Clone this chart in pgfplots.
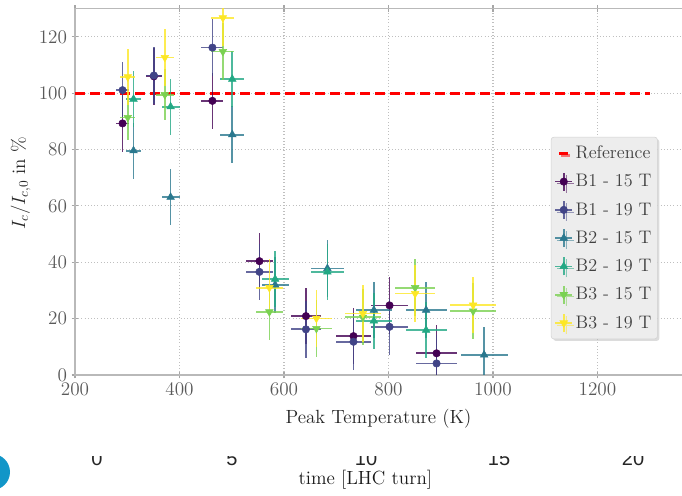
\documentclass[border=0pt]{standalone}
\usepackage{fontspec}
\newfontfamily\axfont{Liberation Sans}
\usepackage{pgfplots}
\usepackage{pgfplotstable}
\pgfplotsset{compat=1.18}
\usetikzlibrary{shadows}
\definecolor{vA}{HTML}{440154}
\definecolor{vB}{HTML}{414487}
\definecolor{vC}{HTML}{2A788E}
\definecolor{vD}{HTML}{22A884}
\definecolor{vE}{HTML}{7AD151}
\definecolor{vF}{HTML}{FDE725}
\definecolor{logoblue}{HTML}{1296C8}

% T  Ic/Ic0  err(T)  err(Ic)
\pgfplotstableread{
T y ex ey
291 89.3 13 10
351 106.0 16 10
463 97.3 21 10
553 40.4 25 10
642 20.9 29 10
733 13.8 33 10
802 24.7 36 10
892 7.7 40 10
}\tabA
\pgfplotstableread{
T y ex ey
291 101.1 13 10
351 106.3 16 10
463 116.2 21 10
553 36.6 25 10
642 16.2 29 10
733 11.8 33 10
802 17.1 36 10
892 4.1 40 10
}\tabB
\pgfplotstableread{
T y ex ey
312 79.6 14 10
383 63.1 17 10
501 85.3 23 10
583 32.0 26 10
683 37.8 31 10
772 23.0 35 10
872 23.0 39 10
983 7.1 45 10
}\tabC
\pgfplotstableread{
T y ex ey
312 97.9 14 10
383 95.2 17 10
501 105.0 23 10
583 34.0 26 10
683 36.6 31 10
772 19.2 35 10
872 15.9 39 10
}\tabD
\pgfplotstableread{
T y ex ey
301 91.4 14 8
372 99.5 17 9
483 114.8 22 10
572 22.4 26 10
662 16.5 30 10
751 20.5 34 10
851 31.0 38 10
962 22.7 44 10
}\tabE
\pgfplotstableread{
T y ex ey
301 105.8 14 10
372 112.7 17 10
483 126.8 22 10
572 31.0 26 10
662 20.1 30 10
751 21.8 34 10
851 28.9 38 10
962 24.8 44 10
}\tabF

\pgfplotsset{
  ebar/.style={only marks, color=#1, mark size=2.8pt,
    error bars/x dir=both, error bars/x explicit,
    error bars/y dir=both, error bars/y explicit,
    error bars/error mark=none,
    error bars/error bar style={line width=1.3pt, opacity=0.8},
    legend image code/.code={
      \draw[#1, line width=1.3pt, opacity=0.8]
        (0.3cm-6.3pt,0pt) -- (0.3cm+6.3pt,0pt) (0.3cm,-6.8pt) -- (0.3cm,6.8pt);
      \draw[##1] plot coordinates {(0.3cm,0pt)};
    }},
}

\begin{document}
\begin{tikzpicture}
\useasboundingbox (0,0) rectangle (511.5pt,372pt);
\begin{axis}[
  at={(56.25pt,90.75pt)}, anchor=south west, scale only axis,
  width=470.25pt, height=274.7pt,
  xmin=200, xmax=1400, ymin=0, ymax=130,
  xtick={200,400,...,1200}, ytick={0,20,...,120},
  /pgf/number format/1000 sep={},
  grid=major, grid style={gray!50, dotted, line width=0.8pt},
  axis line style={gray!55, line width=0.9pt},
  tick style={gray!70, line width=0.8pt}, tick align=center, major tick length=5pt,
  ticklabel style={font=\fontsize{14}{16}\selectfont, text=black!65},
  legend style={at={(rel axis cs:0.759,0.650)}, anchor=north west,
    fill=gray!14, draw=gray!35, rounded corners=2pt,
    font=\fontsize{13.6}{15}\selectfont, text=black!75,
    row sep=6.3pt, inner xsep=2.5pt, inner ysep=4.5pt,
    drop shadow={shadow xshift=1.5pt, shadow yshift=-1.5pt, fill=gray!55}},
  legend cell align=left,
]
\addplot[red, line width=2.2pt, dash pattern=on 7.5pt off 3.75pt,
  legend image code/.code={\draw[red, line width=2.2pt] (0.3cm-3.5pt,0pt) -- (0.3cm+3.5pt,0pt);}]
  coordinates {(200,100) (1300,100)};
\addlegendentry{Reference}
\addplot[ebar=vA, mark=*] table[x=T, y=y, x error=ex, y error=ey] {\tabA};
\addlegendentry{B1 - 15 T}
\addplot[ebar=vB, mark=*] table[x=T, y=y, x error=ex, y error=ey] {\tabB};
\addlegendentry{B1 - 19 T}
\addplot[ebar=vC, mark=triangle*, mark size=3.3pt] table[x=T, y=y, x error=ex, y error=ey] {\tabC};
\addlegendentry{B2 - 15 T}
\addplot[ebar=vD, mark=triangle*, mark size=3.3pt] table[x=T, y=y, x error=ex, y error=ey] {\tabD};
\addlegendentry{B2 - 19 T}
\addplot[ebar=vE, mark=triangle*, mark size=3.3pt, mark options={rotate=180}] table[x=T, y=y, x error=ex, y error=ey] {\tabE};
\addlegendentry{B3 - 15 T}
\addplot[ebar=vF, mark=triangle*, mark size=3.3pt, mark options={rotate=180}] table[x=T, y=y, x error=ex, y error=ey] {\tabF};
\addlegendentry{B3 - 19 T}
\end{axis}
\node[anchor=base, font=\fontsize{14.3}{16}\selectfont, text=black!85] at (283.9pt,54pt) {Peak Temperature (K)};
\node[rotate=90, anchor=base, font=\fontsize{14.3}{16}\selectfont, text=black!85] at (18.75pt,234.5pt) {$I_c/I_{c,0}$ in \%};
% cropped second chart below
\foreach \t/\xx in {0/97,5/232,10/366,15/499,20/633}
  \node[anchor=base, font=\axfont\fontsize{15}{17}\selectfont, text=black!85] at (\xx*0.75pt,23.2pt) {\t};
\fill[white] (0pt,30.3pt) rectangle (511.5pt,42pt);
\node[anchor=base, font=\fontsize{14.3}{16}\selectfont, text=black!90] at (274pt,8.25pt) {time [LHC turn]};
\fill[logoblue] (-6pt,18pt) circle (13.5pt);
\end{tikzpicture}
\end{document}
